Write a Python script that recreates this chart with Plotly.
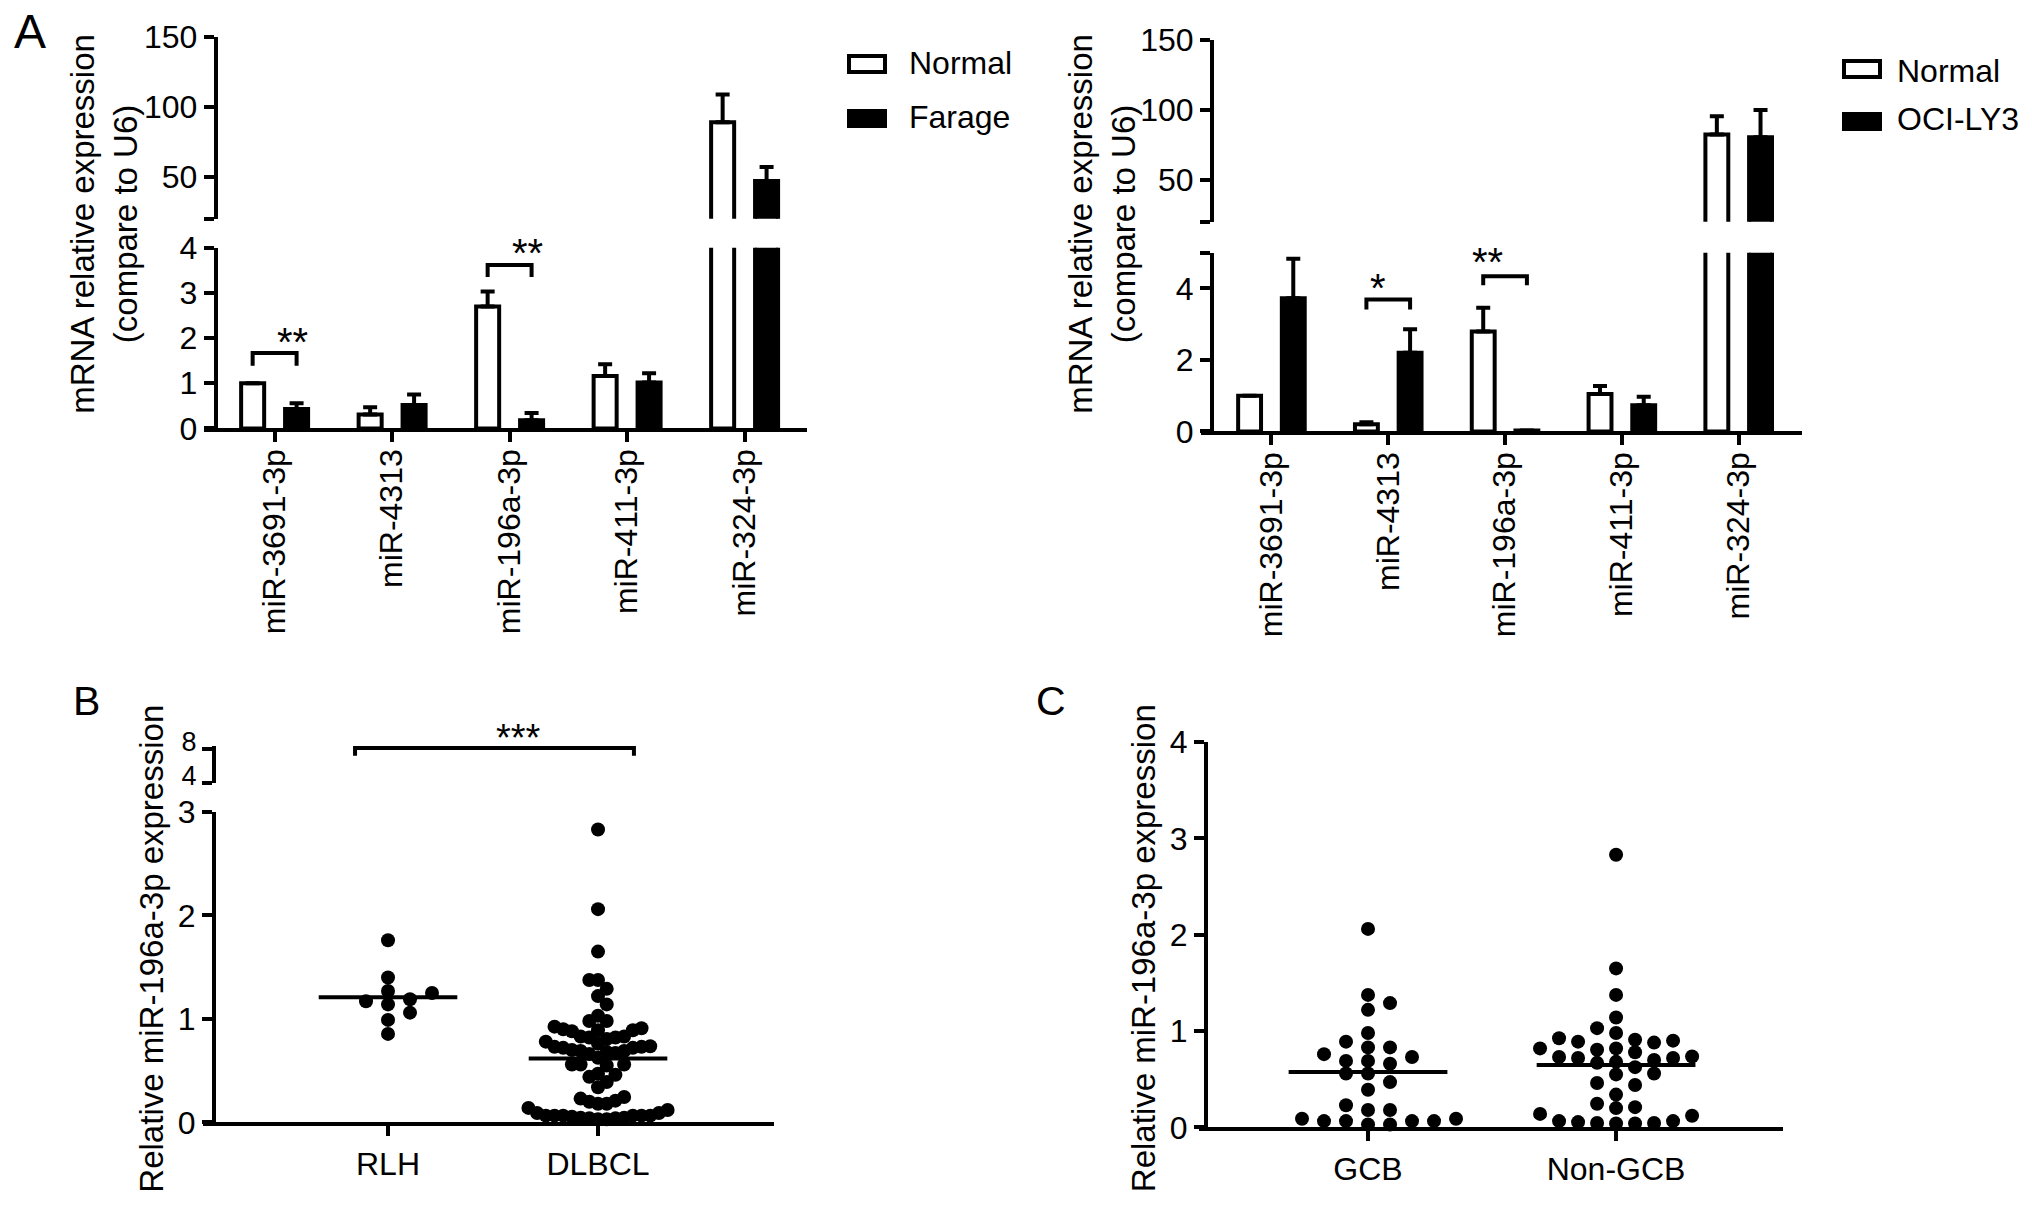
import numpy as np
import plotly.graph_objects as go

W, H = 2032, 1208
FONT = "Liberation Sans, Arial, Helvetica, sans-serif"

# ---- data ----
mirs = ["miR-3691-3p", "miR-4313", "miR-196a-3p", "miR-411-3p", "miR-324-3p"]

farage_normal = [1.0, 0.31, 2.70, 1.16, 89.0]
farage_normal_err = [0.0, 0.16, 0.33, 0.26, 20.0]
farage_cells = [0.43, 0.52, 0.18, 1.02, 47.0]
farage_cells_err = [0.13, 0.23, 0.16, 0.20, 10.0]

oci_normal = [1.0, 0.20, 2.80, 1.05, 82.5]
oci_normal_err = [0.0, 0.06, 0.66, 0.22, 13.0]
oci_cells = [3.73, 2.20, 0.03, 0.73, 80.5]
oci_cells_err = [1.10, 0.66, 0.0, 0.24, 19.5]

rlh = [1.40, 1.25, 1.14, 1.19, 0.99, 0.855, 1.76, 1.27, 1.06, 1.17]
gcb = [2.06, 1.29, 1.375, 1.22, 0.98, 0.89, 0.76, 0.83, 0.83, 0.69, 0.66, 0.73, 0.69, 0.56,
       0.56, 0.47, 0.39, 0.23, 0.18, 0.18, 0.065, 0.09, 0.065, 0.09, 0.03, 0.065, 0.03, 0.065]
non_gcb = [2.83, 1.65, 1.375, 1.14, 1.03, 0.98, 0.925, 0.89, 0.90, 0.88, 0.91, 0.82, 0.78, 0.82,
           0.805, 0.72, 0.72, 0.73, 0.70, 0.735, 0.67, 0.625, 0.56, 0.68, 0.55, 0.44, 0.46, 0.34,
           0.245, 0.14, 0.21, 0.12, 0.20, 0.045, 0.055, 0.04, 0.065, 0.045, 0.065, 0.04]
dlbcl = gcb + non_gcb

# the rendered page comes out slightly squeezed vertically; compensate
Y_OFF, Y_SCALE = 15.9, 0.9717


def px(x):
    return x / W


def py(y):
    return 1 - ((y - Y_OFF) / Y_SCALE) / H


def swarm(values, center, step_px, px_per_x, px_per_y, min_dy=12.5):
    # column scatter like prism: stack points sideways when they would overlap
    offs = [0]
    for k in range(1, 40):
        offs += [k, -k]
    placed = []
    out = [0.0] * len(values)
    for i in sorted(range(len(values)), key=lambda j: values[j]):
        yv = values[i] * px_per_y
        for k in offs:
            xo = k * step_px
            if all(abs(xo - a) > step_px * 0.5 or abs(yv - b) >= min_dy for a, b in placed):
                break
        placed.append((xo, yv))
        out[i] = center + xo / px_per_x
    return out


fig = go.Figure()
bw = 0.196
off = 0.187
xi = np.arange(len(mirs))


def add_bar_pair(normal, nerr, cells, cerr, xa, ya):
    fig.add_trace(go.Bar(x=xi - off, y=normal, width=bw, xaxis=xa, yaxis=ya,
                         marker=dict(color="white", line=dict(color="black", width=4)),
                         error_y=dict(type="data", symmetric=False, array=nerr,
                                      arrayminus=[0] * 5, color="black", thickness=4, width=7),
                         showlegend=False))
    fig.add_trace(go.Bar(x=xi + off, y=cells, width=bw, xaxis=xa, yaxis=ya,
                         marker=dict(color="black", line=dict(color="black", width=4)),
                         error_y=dict(type="data", symmetric=False, array=cerr,
                                      arrayminus=[0] * 5, color="black", thickness=4, width=7),
                         showlegend=False))


add_bar_pair(farage_normal, farage_normal_err, farage_cells, farage_cells_err, "x", "y")
add_bar_pair(farage_normal, farage_normal_err, farage_cells, farage_cells_err, "x2", "y2")
add_bar_pair(oci_normal, oci_normal_err, oci_cells, oci_cells_err, "x3", "y3")
add_bar_pair(oci_normal, oci_normal_err, oci_cells, oci_cells_err, "x4", "y4")


def bracket(xa, ya, x0, x1, top, leg):
    fig.add_trace(go.Scatter(x=[x0, x0, x1, x1], y=[leg, top, top, leg], mode="lines",
                             line=dict(color="black", width=4), xaxis=xa, yaxis=ya,
                             showlegend=False, hoverinfo="skip"))


bracket("x", "y", 0 - off, 0 + off, 1.67, 1.39)
bracket("x", "y", 2 - off, 2 + off, 3.62, 3.35)
bracket("x3", "y3", 1 - off, 1 + off, 3.69, 3.41)
bracket("x3", "y3", 2 - off, 2 + off, 4.34, 4.09)

# ---- panel B ----
b_ppx, b_ppy = 210.0, 103.7
fig.add_trace(go.Scatter(x=swarm(rlh, 0, 22, b_ppx, b_ppy), y=rlh, mode="markers",
                         marker=dict(color="black", size=14), cliponaxis=False,
                         xaxis="x5", yaxis="y5", showlegend=False))
fig.add_trace(go.Scatter(x=swarm(dlbcl, 1, 8.7, b_ppx, b_ppy), y=dlbcl, mode="markers",
                         marker=dict(color="black", size=14), cliponaxis=False,
                         xaxis="x5", yaxis="y5", showlegend=False))
for i, grp in enumerate([rlh, dlbcl]):
    m = float(np.mean(grp))
    fig.add_trace(go.Scatter(x=[i - 0.33, i + 0.33], y=[m, m], mode="lines",
                             line=dict(color="black", width=4), xaxis="x5", yaxis="y5",
                             showlegend=False))
bracket("x6", "y6", -0.157, 1.171, 8.1, 7.2)

# ---- panel C ----
c_ppx, c_ppy = 248.0, 96.5
fig.add_trace(go.Scatter(x=swarm(gcb, 0, 22, c_ppx, c_ppy), y=gcb, mode="markers",
                         marker=dict(color="black", size=14), cliponaxis=False,
                         xaxis="x7", yaxis="y7", showlegend=False))
fig.add_trace(go.Scatter(x=swarm(non_gcb, 1, 19, c_ppx, c_ppy), y=non_gcb, mode="markers",
                         marker=dict(color="black", size=14), cliponaxis=False,
                         xaxis="x7", yaxis="y7", showlegend=False))
for i, grp in enumerate([gcb, non_gcb]):
    m = float(np.mean(grp))
    fig.add_trace(go.Scatter(x=[i - 0.32, i + 0.32], y=[m, m], mode="lines",
                             line=dict(color="black", width=4), xaxis="x7", yaxis="y7",
                             showlegend=False))

# ---- axes ----
tickfont = dict(family=FONT, size=32, color="black")
ax_common = dict(showline=True, linewidth=4, linecolor="black", ticks="outside", ticklen=10,
                 tickwidth=4, tickcolor="black", showgrid=False, zeroline=False,
                 tickfont=tickfont, fixedrange=True)


def xax(dom, rng, anchor, vals=None, text=None, angle=0, visible=True):
    d = dict(ax_common, domain=dom, range=rng, anchor=anchor, tickangle=angle, visible=visible)
    if vals is not None:
        d.update(tickvals=vals, ticktext=text)
    return d


def yax(dom, rng, pos, vals, text=None):
    d = dict(ax_common, domain=dom, range=rng, anchor="free", position=pos, tickvals=vals)
    if text is not None:
        d["ticktext"] = text
    return d


layout_axes = dict(
    xaxis=xax([px(204), px(807)], [-0.601, 4.531], "y", list(xi), mirs, -90),
    yaxis=yax([py(427), py(246)], [0, 4], px(215.7), [0, 1, 2, 3, 4]),
    xaxis2=xax([px(204), px(807)], [-0.601, 4.531], "y2", visible=False),
    yaxis2=yax([py(217), py(35)], [20, 150], px(215.7), [20, 50, 100, 150],
               ["", "50", "100", "150"]),
    xaxis3=xax([px(1201), px(1802)], [-0.603, 4.542], "y3", list(xi), mirs, -90),
    yaxis3=yax([py(430), py(251)], [0, 5], px(1212), [0, 2, 4, 5], ["0", "2", "4", ""]),
    xaxis4=xax([px(1201), px(1802)], [-0.603, 4.542], "y4", visible=False),
    yaxis4=yax([py(220), py(38)], [20, 150], px(1212), [20, 50, 100, 150],
               ["", "50", "100", "150"]),
    xaxis5=xax([px(203), px(774)], [-0.881, 1.838], "y5", [0, 1], ["RLH", "DLBCL"]),
    yaxis5=yax([py(1122), py(811)], [0, 3], px(214), [0, 1, 2, 3]),
    xaxis6=xax([px(203), px(774)], [-0.881, 1.838], "y6", visible=False),
    yaxis6=yax([py(782), py(744.6)], [4, 8.4], px(214), [4, 8]),
    xaxis7=xax([px(1198.6), px(1783)], [-0.683, 1.673], "y7", [0, 1], ["GCB", "Non-GCB"]),
    yaxis7=yax([py(1127), py(741)], [0, 4], px(1206), [0, 1, 2, 3, 4]),
)
layout_axes["yaxis6"]["tickfont"] = dict(tickfont, size=27)
layout_axes["yaxis6"]["ticklabelshift"] = -7
layout_axes["xaxis"]["ticklabelstandoff"] = -6
layout_axes["xaxis3"]["ticklabelstandoff"] = -6


def to_paper(axname, v):
    ax = layout_axes[axname]
    (d0, d1), (r0, r1) = ax["domain"], ax["range"]
    return d0 + (v - r0) / (r1 - r0) * (d1 - d0)


# ---- text ----
ann = []


def label(x, y, text, size, angle=0, anchor="center"):
    ann.append(dict(x=px(x), y=py(y), xref="paper", yref="paper", text=text, showarrow=False,
                    textangle=angle, xanchor=anchor, yanchor="middle",
                    font=dict(family=FONT, size=size, color="black")))


label(30, 29, "A", 48)
label(86, 700, "B", 41)
label(1051, 700, "C", 41)
label(104, 222, "mRNA relative expression<br>(compare to U6)", 33, -90)
label(1102, 222, "mRNA relative expression<br>(compare to U6)", 33, -90)
label(152, 948, "Relative miR-196a-3p expression", 33, -90)
label(1143.5, 948, "Relative miR-196a-3p expression", 33, -90)
label(907, 61, "Normal", 32, anchor="left")
label(907, 115, "Farage", 32, anchor="left")
label(1895, 69, "Normal", 32, anchor="left")
label(1895, 117, "OCI-LY3", 32, anchor="left")


def stars(xa, ya, x, y, text, shift, size=40):
    ann.append(dict(x=to_paper(xa, x), y=to_paper(ya, y), xref="paper", yref="paper",
                    text=text, showarrow=False, yshift=shift,
                    font=dict(family=FONT, size=size, color="black")))


stars("xaxis", "yaxis", 0, 2.0, "**", 20)
stars("xaxis", "yaxis", 2, 4.03, "**", 17)
stars("xaxis3", "yaxis3", 1, 4.2, "*", 17)
stars("xaxis3", "yaxis3", 2, 4.87, "**", 19)
stars("xaxis6", "yaxis6", 0.507, 9.9, "***", -5, 38)

shapes = []
for (x0, y0, x1, y1, fill) in [(849, 54, 885, 70, "white"), (849, 109, 885, 124, "black"),
                               (1844, 59, 1880, 75, "white"), (1844, 112, 1880, 127, "black")]:
    shapes.append(dict(type="rect", xref="paper", yref="paper", x0=px(x0), x1=px(x1),
                       y0=py(y0), y1=py(y1), fillcolor=fill,
                       line=dict(color="black", width=4)))

fig.update_layout(width=W, height=H, margin=dict(l=0, r=0, t=0, b=0),
                  paper_bgcolor="white", plot_bgcolor="white", barmode="overlay",
                  annotations=ann, shapes=shapes, showlegend=False, **layout_axes)

fig.write_html("out.html", config={"displayModeBar": False},
               post_script="document.body.style.margin='0px';")
